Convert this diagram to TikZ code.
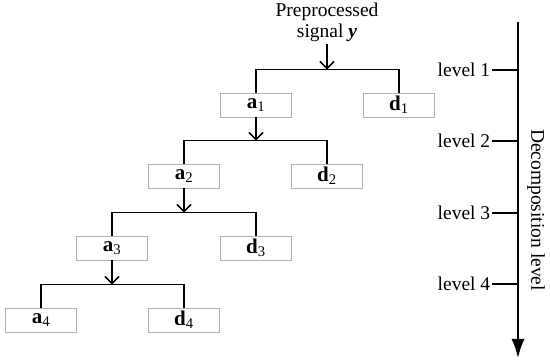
\documentclass[tikz,border=0pt]{standalone}
\usepackage{fontspec}
\setmainfont{Liberation Serif}
\usetikzlibrary{arrows.meta}

\begin{document}
\begin{tikzpicture}[x=1pt, y=-1pt, >={Straight Barb[length=7pt,width=14pt]}, line width=1.6pt, every node/.style={font=\fontsize{19.5}{21}\selectfont}]
\tikzset{coef/.style={draw=gray!60, line width=0.8pt, minimum width=71pt, minimum height=24pt, inner sep=0pt, font=\fontsize{21}{22}\selectfont}}
\useasboundingbox (0,0) rectangle (550,363);
\def\drop{23}
% input signal
\node[align=center, inner sep=2pt] (sig) at (327,22) {Preprocessed\\signal \textbf{\textit{y}}};
% coefficient boxes
\node[coef] (a1) at (256,105) {\textbf{a}\textsubscript{1}};
\node[coef] (d1) at (399,105) {\textbf{d}\textsubscript{1}};
\node[coef] (a2) at (184,176) {\textbf{a}\textsubscript{2}};
\node[coef] (d2) at (327,176) {\textbf{d}\textsubscript{2}};
\node[coef] (a3) at (112,248) {\textbf{a}\textsubscript{3}};
\node[coef] (d3) at (256,248) {\textbf{d}\textsubscript{3}};
\node[coef] (a4) at (41,320) {\textbf{a}\textsubscript{4}};
\node[coef] (d4) at (184,320) {\textbf{d}\textsubscript{4}};
% branches
\draw (a1.north) -- ++(0,-\drop) coordinate (b1) -| (d1.north);
\draw (a2.north) -- ++(0,-\drop) coordinate (b2) -| (d2.north);
\draw (a3.north) -- ++(0,-\drop) coordinate (b3) -| (d3.north);
\draw (a4.north) -- ++(0,-\drop) coordinate (b4) -| (d4.north);
\draw[->] (sig.south) -- (sig.south |- b1);
\draw[->] (a1.south) -- (a1.south |- b2);
\draw[->] (a2.south) -- (a2.south |- b3);
\draw[->] (a3.south) -- (a3.south |- b4);
% level axis
\coordinate (top) at (518,22);
\coordinate (bot) at (518,358);
\draw[line width=1.8pt, -{Latex[length=19pt,width=13pt]}] (top) -- (bot);
\foreach \k/\y in {1/70,2/141,3/213,4/284}{
  \node[anchor=east, inner sep=1pt] (lv\k) at (492,\y) {level \k};
  \draw (lv\k.east) -- (lv\k.east -| top);
}
\node[rotate=-90] (axl) at (536,210) {Decomposition level};
\end{tikzpicture}
\end{document}
